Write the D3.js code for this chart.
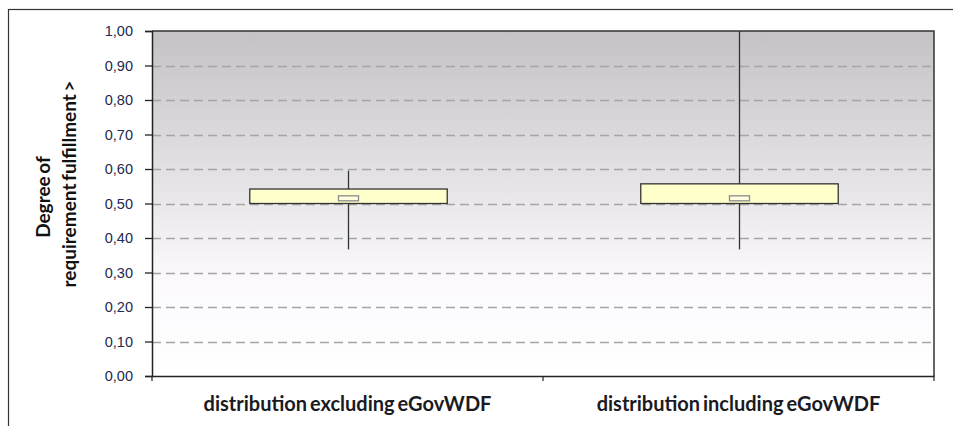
<!DOCTYPE html>
<html><head><meta charset="utf-8">
<script src="https://cdn.jsdelivr.net/npm/d3@7"></script>
<style>body{margin:0;background:#fff}svg{display:block}</style>
</head><body>
<script>
const categories = ["distribution excluding eGovWDF", "distribution including eGovWDF"];
const whiskerLow = [0.367, 0.367];
const q1 = [0.50, 0.50];
const median = [0.515, 0.515];
const q3 = [0.542, 0.557];
const whiskerHigh = [0.595, 1.00];
const yTicks = [0, 0.1, 0.2, 0.3, 0.4, 0.5, 0.6, 0.7, 0.8, 0.9, 1.0];
const yTitle = ["Degree of", "requirement fulfillment >"];

const W = 953, H = 426;
const m = {left: 152, right: 19, top: 31, bottom: 50};
const svg = d3.select("body").append("svg").attr("width", W).attr("height", H);

// outer frame
svg.append("rect").attr("x", 8.5).attr("y", 9.5).attr("width", W + 10).attr("height", H + 10)
  .attr("fill", "#fff").attr("stroke", "#333").attr("stroke-width", 1.2);

const x = d3.scaleBand().domain(categories).range([m.left, W - m.right]);
const y = d3.scaleLinear().domain([0, 1]).range([H - m.bottom, m.top]);

const defs = svg.append("defs");
const grad = defs.append("linearGradient").attr("id", "bg").attr("x1", 0).attr("y1", 0).attr("x2", 0).attr("y2", 1);
grad.append("stop").attr("offset", "0%").attr("stop-color", "#c5c2c6");
grad.append("stop").attr("offset", "40%").attr("stop-color", "#e2e0e3");
grad.append("stop").attr("offset", "72%").attr("stop-color", "#fbf9fc");
grad.append("stop").attr("offset", "100%").attr("stop-color", "#ffffff");

svg.append("rect").attr("x", m.left).attr("y", m.top)
  .attr("width", W - m.right - m.left).attr("height", y(0) - y(1))
  .attr("fill", "url(#bg)");

// gridlines
svg.append("g").selectAll("line").data(yTicks.filter(d => d > 0 && d < 1)).join("line")
  .attr("x1", m.left).attr("x2", W - m.right)
  .attr("y1", d => Math.round(y(d)) + 0.5).attr("y2", d => Math.round(y(d)) + 0.5)
  .attr("stroke", "#a5a4a6").attr("stroke-width", 1.3).attr("stroke-dasharray", "9,5");

// plot border (top & right)
svg.append("path")
  .attr("d", `M${m.left},${y(1)}H${W - m.right}V${y(0)}`)
  .attr("fill", "none").attr("stroke", "#333").attr("stroke-width", 1.5);

// y axis
const yAxis = svg.append("g").attr("transform", `translate(${m.left},0)`)
  .call(d3.axisLeft(y).tickValues(yTicks).tickSize(7).tickPadding(12)
    .tickFormat(d => d3.format(".2f")(d).replace(".", ",")));
yAxis.select(".domain").attr("stroke", "#222").attr("stroke-width", 1.5);
yAxis.selectAll(".tick line").attr("stroke", "#222").attr("stroke-width", 1.3);
yAxis.selectAll("text").attr("font-family", "'Liberation Sans', Arial, sans-serif")
  .attr("font-size", 14.5).attr("fill", "#222a50");

// x axis
const xAxis = svg.append("g").attr("transform", `translate(0,${y(0)})`)
  .call(d3.axisBottom(x).tickSize(0).tickPadding(21));
xAxis.select(".domain").attr("stroke", "#222").attr("stroke-width", 1.5);
xAxis.selectAll("text").attr("font-family", "Lato, 'Open Sans', sans-serif")
  .attr("font-weight", "bold").attr("font-size", 20).attr("fill", "#1a1a22")
  .attr("word-spacing", "-2px");
// tick marks at band boundaries
svg.append("g").selectAll("line").data([m.left, x(categories[1]), W - m.right]).join("line")
  .attr("x1", d => d).attr("x2", d => d).attr("y1", y(0)).attr("y2", y(0) + 5)
  .attr("stroke", "#222").attr("stroke-width", 1.2);

// y title (two lines)
const titlePos = [[42, 197], [68, 184]];
svg.append("g").selectAll("text").data(yTitle).join("text")
  .attr("transform", (d, i) => `translate(${titlePos[i][0]},${titlePos[i][1]}) rotate(-90)`)
  .attr("text-anchor", "middle").attr("dominant-baseline", "central")
  .attr("font-family", "Lato, 'Open Sans', sans-serif")
  .attr("font-weight", "bold").attr("font-size", 19).attr("fill", "#111")
  .attr("word-spacing", "-2px")
  .text(d => d);

// boxes
const boxW = x.bandwidth() * 0.505;
const g = svg.append("g");
categories.forEach((c, i) => {
  const cx = Math.round(x(c) + x.bandwidth() / 2) + 0.5;
  g.append("line").attr("x1", cx).attr("x2", cx)
    .attr("y1", y(whiskerLow[i])).attr("y2", y(whiskerHigh[i]))
    .attr("stroke", "#333").attr("stroke-width", 1.3);
  g.append("rect").attr("x", cx - boxW / 2).attr("y", y(q3[i]))
    .attr("width", boxW).attr("height", y(q1[i]) - y(q3[i]))
    .attr("fill", "#ffffcc").attr("stroke", "#333").attr("stroke-width", 1.3);
  g.append("rect").attr("x", cx - 10).attr("y", y(median[i]) - 2.5)
    .attr("width", 20).attr("height", 5)
    .attr("fill", "#ffffe0").attr("stroke", "#8a8a8a").attr("stroke-width", 1.3);
});
</script>
</body></html>
